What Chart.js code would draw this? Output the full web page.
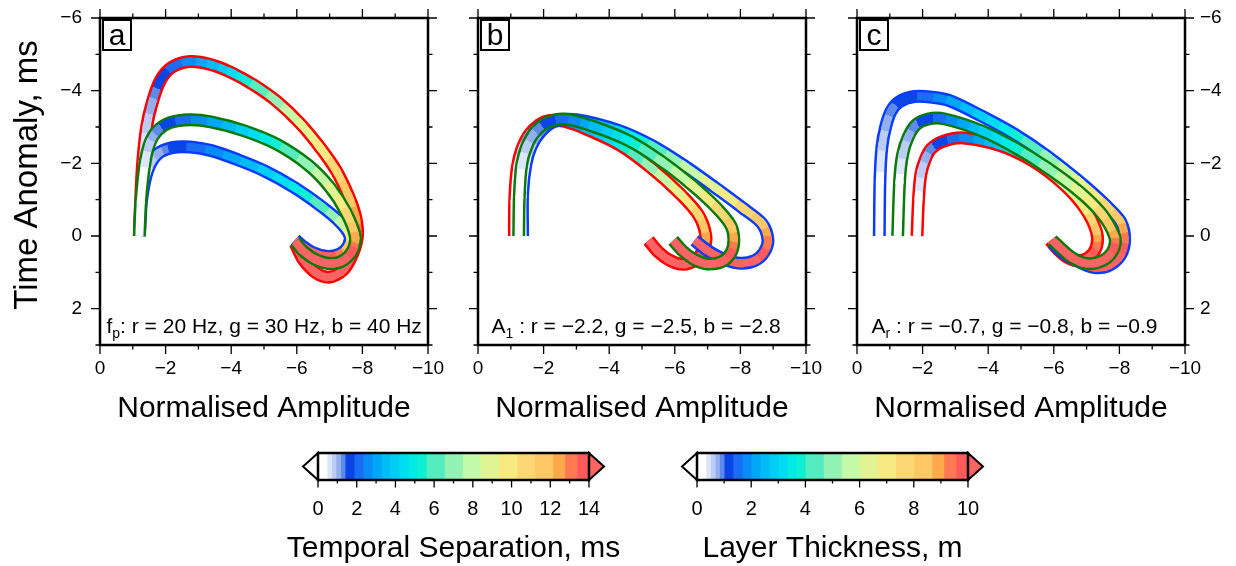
<!DOCTYPE html>
<html>
<head>
<meta charset="utf-8">
<title>Temporal separation curves</title>
<script src="https://cdn.jsdelivr.net/npm/chart.js@4.4.1/dist/chart.umd.min.js"></script>
<style>
  html, body { margin: 0; padding: 0; background: #fff; }
  #fig { position: relative; width: 1236px; height: 566px; overflow: hidden; background: #fff; }
  #fig canvas { position: absolute; left: 0; top: 0; }
</style>
</head>
<body>
<div id="fig">
  <canvas id="panelA" width="1236" height="566"></canvas>
  <canvas id="panelB" width="1236" height="566"></canvas>
  <canvas id="panelC" width="1236" height="566"></canvas>
  <canvas id="barSep" width="1236" height="566"></canvas>
  <canvas id="barThick" width="1236" height="566"></canvas>
</div>
<script>
const FONT = "'Liberation Sans', Arial, Helvetica, sans-serif";
Chart.defaults.font.family = FONT;
Chart.defaults.color = '#000';

const FIG_W = 1236, FIG_H = 566;

// axis ticks
const xMajor = [0, -2, -4, -6, -8, -10];
const xMinor = [-1, -3, -5, -7, -9];
const yMajor = [-6, -4, -2, 0, 2];
const yMinor = [-5, -3, -1, 1, 3];

// colour scale (bin edges for each bar, shared colours)
const sepEdges = [0, 0.47, 0.7, 0.93, 1.17, 1.4, 1.87, 2.33, 2.8, 3.27, 3.73, 4.2, 4.67, 5.13, 5.6,
                  6.53, 7.47, 8.4, 9.33, 10.27, 11.2, 12.13, 12.75, 13.38, 14];
const thickEdges = [0, 0.33, 0.5, 0.67, 0.83, 1, 1.33, 1.67, 2, 2.33, 2.67, 3, 3.33, 3.67, 4,
                    4.67, 5.33, 6, 6.67, 7.33, 8, 8.67, 9.11, 9.56, 10];
const binColors = ['#ffffff', '#dce6fa', '#bccdf5', '#93aff0', '#5f8ae9', '#0a46e6', '#1a6cf2', '#0a8cf6',
                   '#00a6f7', '#00bcf6', '#00cef4', '#00ddf0', '#00eae6', '#10efd2', '#55ecc0', '#93f3b5',
                   '#c4fba8', '#e1f393', '#f8ea83', '#fdd774', '#fec866', '#ffa94a', '#ff7a50', '#ff5a5a'];
const underColor = '#ffffff';
const overColor = '#ff6464';
const sepMajor = [0, 2, 4, 6, 8, 10, 12, 14];
const sepMinor = [1, 3, 5, 7, 9, 11, 13];
const thickMajor = [0, 2, 4, 6, 8, 10];
const thickMinor = [1, 3, 5, 7, 9];

// curves: [amplitude, time anomaly (ms), temporal separation (ms)]
const aRed = [
  [-1.2, 0, 0], [-1.24, -1.0, 0.2], [-1.3, -2.0, 0.45], [-1.42, -3.0, 0.75], [-1.6, -3.7, 1.1],
  [-1.85, -4.3, 1.6], [-2.2, -4.65, 2.0], [-2.74, -4.8, 2.6], [-3.37, -4.72, 3.3], [-4.0, -4.5, 4.4],
  [-4.7, -4.15, 5.7], [-5.4, -3.7, 7.2], [-6.1, -3.1, 8.5], [-6.7, -2.45, 9.7], [-7.2, -1.8, 10.8],
  [-7.6, -1.05, 11.8], [-7.8, -0.5, 12.5], [-7.85, 0.0, 13.2], [-7.7, 0.5, 14.1], [-7.4, 0.95, 14.8],
  [-7.0, 1.13, 15.4], [-6.6, 1.02, 16.0], [-6.2, 0.65, 16.6], [-5.95, 0.2, 17.0]
];
const aGreen = [
  [-1.2, 0, 0], [-1.25, -1.0, 0.2], [-1.37, -2.0, 0.5], [-1.52, -2.56, 0.85], [-1.75, -2.9, 1.25],
  [-2.13, -3.12, 1.7], [-2.74, -3.2, 2.3], [-3.38, -3.14, 2.9], [-4.38, -2.9, 4.0], [-5.38, -2.53, 5.4],
  [-6.35, -1.95, 7.1], [-7.01, -1.34, 8.7], [-7.49, -0.67, 10.4], [-7.78, 0.0, 12.2], [-7.7, 0.4, 13.5],
  [-7.42, 0.67, 14.4], [-7.05, 0.76, 15.0], [-6.6, 0.66, 15.6], [-6.2, 0.42, 16.2], [-5.95, 0.15, 16.6]
];
const aBlue = [
  [-1.2, 0, 0], [-1.27, -1.0, 0.3], [-1.45, -1.8, 0.6], [-1.75, -2.25, 1.0], [-2.2, -2.43, 1.45],
  [-2.75, -2.45, 1.9], [-3.4, -2.35, 2.5], [-4.2, -2.1, 3.2], [-5.0, -1.8, 3.9], [-5.9, -1.35, 4.8],
  [-6.7, -0.85, 6.0], [-7.3, -0.4, 7.5], [-7.62, 0.0, 9.5], [-7.55, 0.3, 11.5], [-7.3, 0.5, 13.0],
  [-6.9, 0.56, 14.2], [-6.5, 0.46, 15.0], [-6.15, 0.26, 15.6], [-5.95, 0.1, 16.0]
];

const bRed = [
  [-1.11, 0, 0], [-1.12, -1.0, 0.25], [-1.2, -1.9, 0.5], [-1.34, -2.4, 0.8], [-1.55, -2.78, 1.1],
  [-1.86, -3.06, 1.5], [-2.2, -3.18, 1.85], [-2.65, -3.15, 2.4], [-3.31, -2.94, 3.3], [-4.33, -2.5, 5.0],
  [-5.3, -1.86, 7.2], [-6.14, -1.18, 9.0], [-6.72, -0.58, 10.8], [-6.95, 0.02, 12.3], [-6.85, 0.42, 13.6],
  [-6.6, 0.68, 14.4], [-6.25, 0.78, 15.0], [-5.85, 0.67, 15.6], [-5.5, 0.44, 16.1], [-5.2, 0.12, 16.5]
];
const bGreen = [
  [-1.24, 0, 0], [-1.26, -1.1, 0.25], [-1.33, -1.95, 0.5], [-1.48, -2.45, 0.8], [-1.73, -2.85, 1.15],
  [-2.1, -3.12, 1.55], [-2.65, -3.22, 2.2], [-3.5, -3.02, 3.3], [-4.6, -2.62, 5.0], [-5.6, -2.05, 6.9],
  [-6.5, -1.42, 8.6], [-7.25, -0.8, 10.3], [-7.7, -0.3, 11.6], [-7.8, 0.1, 12.6], [-7.72, 0.45, 13.6],
  [-7.45, 0.7, 14.4], [-7.0, 0.77, 15.0], [-6.6, 0.65, 15.6], [-6.25, 0.42, 16.1], [-5.95, 0.12, 16.5]
];
const bBlue = [
  [-1.36, 0, 0], [-1.36, -1.15, 0.25], [-1.46, -1.98, 0.5], [-1.63, -2.48, 0.85], [-1.92, -2.88, 1.2],
  [-2.32, -3.15, 1.6], [-3.0, -3.2, 2.4], [-4.3, -2.9, 4.2], [-5.3, -2.49, 5.8], [-6.28, -1.94, 7.6],
  [-7.28, -1.3, 9.2], [-8.07, -0.77, 10.6], [-8.65, -0.35, 11.8], [-8.84, 0.11, 12.8], [-8.72, 0.45, 13.6],
  [-8.45, 0.67, 14.3], [-8.0, 0.75, 15.0], [-7.5, 0.64, 15.6], [-7.0, 0.4, 16.1], [-6.6, 0.12, 16.5]
];

const cBlue = [
  [-0.68, 0, 0], [-0.7, -1.54, 0.4], [-0.76, -2.46, 0.7], [-0.88, -3.03, 1.0], [-1.04, -3.44, 1.25],
  [-1.28, -3.69, 1.5], [-1.74, -3.84, 1.8], [-2.3, -3.82, 2.3], [-2.84, -3.72, 2.9], [-3.8, -3.3, 4.0],
  [-4.79, -2.81, 5.2], [-5.78, -2.21, 6.8], [-6.78, -1.5, 8.8], [-7.56, -0.87, 10.6], [-8.04, -0.39, 12.0],
  [-8.16, 0.11, 13.2], [-8.02, 0.55, 14.2], [-7.63, 0.83, 15.0], [-7.2, 0.86, 15.5], [-6.75, 0.7, 16.0],
  [-6.3, 0.47, 16.5], [-5.95, 0.18, 17.0]
];
const cGreen = [
  [-1.24, 0, 0], [-1.3, -1.54, 0.4], [-1.39, -2.24, 0.7], [-1.56, -2.72, 1.0], [-1.8, -3.06, 1.35],
  [-2.16, -3.22, 1.7], [-2.68, -3.22, 2.3], [-3.81, -2.89, 3.8], [-4.8, -2.44, 5.2], [-5.78, -1.89, 6.9],
  [-6.78, -1.22, 8.9], [-7.46, -0.61, 10.8], [-7.85, 0.0, 12.5], [-7.85, 0.3, 13.6], [-7.65, 0.58, 14.4],
  [-7.3, 0.74, 15.0], [-6.9, 0.74, 15.5], [-6.5, 0.56, 16.0], [-6.17, 0.3, 16.5], [-5.95, 0.12, 16.8]
];
const cRed = [
  [-1.83, 0, 0], [-1.88, -1.08, 0.4], [-1.95, -1.72, 0.7], [-2.09, -2.13, 1.0], [-2.26, -2.4, 1.3],
  [-2.6, -2.6, 1.7], [-3.24, -2.7, 2.4], [-4.36, -2.49, 3.9], [-5.35, -2.07, 5.6], [-6.29, -1.43, 7.6],
  [-6.95, -0.76, 9.8], [-7.3, -0.12, 11.8], [-7.3, 0.3, 13.2], [-7.05, 0.6, 14.3], [-6.7, 0.68, 15.0],
  [-6.35, 0.55, 15.6], [-6.05, 0.3, 16.1], [-5.9, 0.12, 16.4]
];

const RED = '#ff0000', GREEN = '#0b7a0b', BLUE = '#0a3cff';

// frame geometry
const PLOT_TOP = 18, PLOT_BOTTOM = 345, PLOT_W = 328;
const X_AXIS_H = 82, Y_AXIS_W = 92;

const panels = [
  { id: 'panelA', left: 100, letter: 'a', yAxis: 'left', noteX: 6.5,
    note: [['f'], ['p', true], [': r = 20 Hz, g = 30 Hz, b = 40 Hz']],
    curves: [[aRed, RED], [aBlue, BLUE], [aGreen, GREEN]] },
  { id: 'panelB', left: 478, letter: 'b', yAxis: 'none', noteX: 13.5,
    note: [['A'], ['1', true], [' : r = \u22122.2, g = \u22122.5, b = \u22122.8']],
    curves: [[bRed, RED], [bBlue, BLUE], [bGreen, GREEN]] },
  { id: 'panelC', left: 857, letter: 'c', yAxis: 'right', noteX: 14.5,
    note: [['A'], ['r', true], [' : r = \u22120.7, g = \u22120.8, b = \u22120.9']],
    curves: [[cRed, RED], [cBlue, BLUE], [cGreen, GREEN]] }
];

function fmt(v) {
  return v < 0 ? '\u2212' + Math.abs(v) : String(v);
}

function sepColor(v) {
  if (v < sepEdges[0]) return underColor;
  for (let i = 0; i < binColors.length; i++) {
    if (v < sepEdges[i + 1]) return binColors[i];
  }
  return overColor;
}

// hard-stepped gradient along one piece of the band
function bandColor(c) {
  const pts = c.chart.data.datasets[c.datasetIndex].data;
  const s0 = pts[c.p0DataIndex].s, s1 = pts[c.p1DataIndex].s;
  const g = c.chart.ctx.createLinearGradient(c.p0.x, c.p0.y, c.p1.x, c.p1.y);
  g.addColorStop(0, sepColor(s0));
  for (const e of sepEdges) {
    if (e > s0 && e < s1) {
      const t = (e - s0) / (s1 - s0);
      g.addColorStop(t, sepColor(e - 1e-6));
      g.addColorStop(t, sepColor(e));
    }
  }
  g.addColorStop(1, sepColor(s1 - 1e-6));
  return g;
}

function bandCap(c) {
  const last = c.chart.data.datasets[c.datasetIndex].data.length - 1;
  return (c.p0DataIndex === 0 || c.p1DataIndex === last) ? 'butt' : 'square';
}

function toPoints(rows) {
  return rows.map(([x, y, s]) => ({ x, y, s }));
}

function panelFrame(p) {
  return {
    id: 'panelFrame',
    afterDraw(chart) {
      const { ctx, chartArea: a, scales: { x, y } } = chart;
      ctx.save();
      ctx.strokeStyle = '#000';
      ctx.lineWidth = 1.3;
      ctx.beginPath();
      const xTick = (v, len) => {
        const px = x.getPixelForValue(v);
        ctx.moveTo(px, a.bottom); ctx.lineTo(px, a.bottom + len);
        ctx.moveTo(px, a.top); ctx.lineTo(px, a.top - len);
      };
      const yTick = (v, len) => {
        const py = y.getPixelForValue(v);
        ctx.moveTo(a.left, py); ctx.lineTo(a.left - len, py);
        ctx.moveTo(a.right, py); ctx.lineTo(a.right + len, py);
      };
      xMajor.forEach(v => xTick(v, 9));
      xMinor.forEach(v => xTick(v, 4.5));
      yMajor.forEach(v => yTick(v, 9));
      yMinor.forEach(v => yTick(v, 4.5));
      ctx.stroke();

      ctx.lineWidth = 2.5;
      ctx.strokeRect(a.left, a.top, a.right - a.left, a.bottom - a.top);

      // panel letter
      ctx.fillStyle = '#fff';
      ctx.lineWidth = 2;
      ctx.fillRect(a.left + 3, a.top + 2, 28, 30);
      ctx.strokeRect(a.left + 3, a.top + 2, 28, 30);
      ctx.fillStyle = '#000';
      ctx.font = '30px ' + FONT;
      ctx.textAlign = 'center';
      ctx.textBaseline = 'alphabetic';
      ctx.fillText(p.letter, a.left + 17, a.top + 27);

      // parameter note
      ctx.textAlign = 'left';
      let tx = a.left + p.noteX;
      const base = a.bottom - 12;
      for (const [txt, sub] of p.note) {
        ctx.font = (sub ? '14px ' : '21px ') + FONT;
        ctx.fillText(txt, tx, sub ? base + 5 : base);
        tx += ctx.measureText(txt).width;
      }

      // vertical axis title, set a little above the frame centre
      if (p.yAxis === 'left') {
        ctx.save();
        ctx.translate(28, 175);
        ctx.rotate(-Math.PI / 2);
        ctx.font = '33px ' + FONT;
        ctx.textAlign = 'center';
        ctx.textBaseline = 'middle';
        ctx.fillText('Time Anomaly, ms', 0, 0);
        ctx.restore();
      }
      ctx.restore();
    }
  };
}

function makePanel(p) {
  const datasets = [];
  let order = p.curves.length * 2;
  for (const [rows, colour] of p.curves) {
    datasets.push({
      data: toPoints(rows), borderColor: colour, borderWidth: 13,
      borderCapStyle: 'butt', order: order--
    });
    datasets.push({
      data: toPoints(rows), borderColor: '#ffffff', borderWidth: 8,
      borderCapStyle: 'square', order: order--,
      segment: { borderColor: bandColor, borderCapStyle: bandCap }
    });
  }
  const padding = {
    top: PLOT_TOP,
    bottom: FIG_H - PLOT_BOTTOM - X_AXIS_H,
    left: p.left,
    right: FIG_W - p.left - PLOT_W
  };
  if (p.yAxis === 'left') padding.left -= Y_AXIS_W;
  if (p.yAxis === 'right') padding.right -= Y_AXIS_W;

  new Chart(document.getElementById(p.id), {
    type: 'line',
    data: { datasets },
    options: {
      responsive: false,
      animation: false,
      events: [],
      layout: { padding },
      elements: {
        point: { radius: 0 },
        line: { tension: 0.3, fill: false, borderJoinStyle: 'round' }
      },
      plugins: { legend: { display: false }, tooltip: { enabled: false } },
      scales: {
        x: {
          type: 'linear', min: -10, max: 0, reverse: true,
          grid: { display: false, drawTicks: false }, border: { display: false },
          afterBuildTicks: s => { s.ticks = xMajor.map(value => ({ value })); },
          afterFit: s => { s.height = X_AXIS_H; s.paddingLeft = 0; s.paddingRight = 0; },
          ticks: { font: { size: 19 }, padding: 12, maxRotation: 0, autoSkip: false, callback: fmt },
          title: { display: true, text: 'Normalised Amplitude', font: { size: 30 }, padding: 0 }
        },
        y: {
          type: 'linear', min: -6, max: 3, reverse: true,
          display: p.yAxis !== 'none',
          position: p.yAxis === 'right' ? 'right' : 'left',
          grid: { display: false, drawTicks: false }, border: { display: false },
          afterBuildTicks: s => { s.ticks = yMajor.map(value => ({ value })); },
          afterFit: s => {
            if (p.yAxis !== 'none') s.width = Y_AXIS_W;
            s.paddingTop = 0; s.paddingBottom = 0;
          },
          ticks: { font: { size: 19 }, padding: p.yAxis === 'right' ? 15 : 18, autoSkip: false, callback: fmt },
          title: { display: false }
        }
      }
    },
    plugins: [panelFrame(p)]
  });
}

function barFrame(major, minor, title) {
  return {
    id: 'barFrame',
    afterDraw(chart) {
      const { ctx, chartArea: a, scales: { x } } = chart;
      const mid = (a.top + a.bottom) / 2;
      ctx.save();
      ctx.lineWidth = 2;
      ctx.strokeStyle = '#000';
      ctx.lineJoin = 'miter';
      ctx.beginPath();
      ctx.moveTo(a.left, a.top); ctx.lineTo(a.left - 15, mid); ctx.lineTo(a.left, a.bottom); ctx.closePath();
      ctx.fillStyle = underColor; ctx.fill(); ctx.stroke();
      ctx.beginPath();
      ctx.moveTo(a.right, a.top); ctx.lineTo(a.right + 15, mid); ctx.lineTo(a.right, a.bottom); ctx.closePath();
      ctx.fillStyle = overColor; ctx.fill(); ctx.stroke();

      ctx.lineWidth = 1.3;
      ctx.beginPath();
      major.forEach(v => {
        const px = x.getPixelForValue(v);
        ctx.moveTo(px, a.bottom); ctx.lineTo(px, a.bottom + 7.5);
      });
      minor.forEach(v => {
        const px = x.getPixelForValue(v);
        ctx.moveTo(px, a.bottom); ctx.lineTo(px, a.bottom + 3.5);
      });
      ctx.stroke();
      ctx.lineWidth = 2.5;
      ctx.strokeRect(a.left, a.top, a.right - a.left, a.bottom - a.top);

      // bar title is wider than the bar itself, so it is set here
      ctx.fillStyle = '#000';
      ctx.font = '30px ' + FONT;
      ctx.textAlign = 'center';
      ctx.textBaseline = 'middle';
      ctx.fillText(title, (a.left + a.right) / 2, 549);
      ctx.restore();
    }
  };
}

function makeColourBar(id, edges, major, minor, left, title) {
  const datasets = binColors.map((c, i) => ({
    data: [[edges[i], edges[i + 1]]],
    backgroundColor: c, borderWidth: 0,
    grouped: false, barPercentage: 1, categoryPercentage: 1
  }));
  new Chart(document.getElementById(id), {
    type: 'bar',
    data: { labels: [''], datasets },
    options: {
      indexAxis: 'y',
      responsive: false,
      animation: false,
      events: [],
      layout: { padding: { left, right: FIG_W - left - 271, top: 453, bottom: 0 } },
      plugins: { legend: { display: false }, tooltip: { enabled: false } },
      scales: {
        x: {
          type: 'linear', min: edges[0], max: edges[edges.length - 1],
          grid: { display: false, drawTicks: false }, border: { display: false },
          afterBuildTicks: s => { s.ticks = major.map(value => ({ value })); },
          afterFit: s => { s.height = 86; s.paddingLeft = 0; s.paddingRight = 0; },
          ticks: { font: { size: 20 }, padding: 17, maxRotation: 0, autoSkip: false }
        },
        y: { display: false }
      }
    },
    plugins: [barFrame(major, minor, title)]
  });
}

panels.forEach(makePanel);
makeColourBar('barSep', sepEdges, sepMajor, sepMinor, 318, 'Temporal Separation, ms');
makeColourBar('barThick', thickEdges, thickMajor, thickMinor, 697, 'Layer Thickness, m');
</script>
</body>
</html>
